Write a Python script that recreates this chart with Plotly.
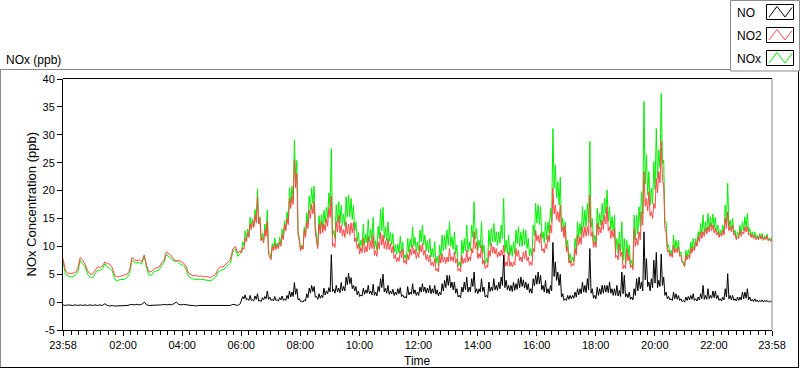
import plotly.graph_objects as go
import pandas as pd

# ---------------- data ----------------
START = "2020-01-01 23:58"
END = "2020-01-02 23:58"

# 5-minute samples, 23:58 .. 23:58 (289 points)
NO2 = [
    7.8, 5.6, 5.2, 5.1, 5.2, 5.3, 6.0, 8.0, 7.5, 6.8, 5.6, 5.0,
    5.0, 5.6, 6.3, 6.2, 6.5, 7.2, 6.9, 6.8, 6.2, 4.8, 4.5, 4.6,
    4.7, 4.8, 5.0, 5.6, 8.0, 7.6, 7.4, 7.6, 7.2, 8.4, 6.5, 5.4,
    5.5, 6.0, 6.2, 6.3, 7.0, 7.5, 9.0, 8.6, 8.3, 7.6, 7.4, 7.5,
    7.2, 7.0, 6.4, 5.2, 4.9, 4.7, 4.8, 4.6, 4.7, 4.5, 4.6, 4.5,
    4.4, 4.7, 5.0, 6.0, 6.3, 6.3, 6.8, 7.2, 7.6, 9.5, 10.0, 8.8,
    9.2, 9.8, 11.5, 12.5, 14.0, 14.5, 15.5, 18.8, 15.0, 11.5, 13.0, 14.5,
    8.0, 10.0, 10.5, 10.2, 10.8, 12.0, 14.0, 15.0, 18.5, 19.0, 25.5, 23.0,
    11.0, 10.0, 13.0, 14.5, 16.5, 17.5, 18.0, 10.8, 14.0, 14.5, 14.0, 15.0,
    17.0, 19.0, 10.5, 14.5, 15.5, 13.8, 13.0, 14.4, 14.0, 14.2, 14.3, 11.5,
    10.5, 9.8, 11.5, 10.0, 11.8, 11.0, 12.0, 9.2, 10.8, 12.5, 12.0, 11.0,
    11.4, 10.5, 10.0, 8.5, 8.0, 9.2, 9.5, 7.5, 8.6, 9.5, 10.2, 9.4,
    9.0, 10.2, 10.5, 9.3, 8.5, 8.4, 7.2, 7.8, 6.0, 8.4, 8.7, 8.1,
    8.1, 9.6, 8.1, 9.0, 7.8, 6.0, 8.4, 7.8, 9.3, 8.1, 9.6, 12.6,
    10.8, 8.7, 10.2, 7.5, 6.6, 9.3, 10.5, 9.9, 9.6, 9.0, 9.3, 10.2,
    7.2, 9.0, 7.2, 7.2, 9.6, 9.3, 8.1, 9.0, 9.3, 8.1, 7.2, 9.6,
    12.9, 12.0, 12.3, 9.6, 10.5, 12.0, 13.8, 20.4, 17.4, 16.2, 17.4, 13.5,
    13.8, 9.9, 7.5, 6.9, 9.6, 12.0, 11.7, 13.5, 13.5, 13.5, 19.2, 12.6,
    10.8, 14.1, 13.5, 14.7, 15.6, 17.1, 13.5, 12.9, 13.2, 8.4, 10.5, 9.0,
    6.6, 9.6, 8.4, 6.6, 13.2, 11.4, 12.6, 16.2, 23.4, 18.6, 19.8, 16.2,
    17.7, 22.2, 23.4, 28.8, 21.0, 12.6, 9.3, 8.7, 10.2, 9.6, 9.9, 8.4,
    6.9, 8.4, 8.4, 9.6, 9.9, 10.8, 11.7, 12.6, 12.6, 13.2, 13.5, 14.1,
    13.8, 13.2, 12.6, 12.3, 12.9, 15.0, 16.2, 13.5, 13.8, 12.3, 11.7, 12.9,
    12.6, 13.5, 13.5, 12.3, 12.1, 12.0, 11.6, 12.0, 11.9, 11.6, 11.9, 11.3,
    11.4,
]

NO = [
    -0.5, -0.6, -0.5, -0.6, -0.6, -0.5, -0.6, -0.5, -0.6, -0.5, -0.6, -0.5,
    -0.6, -0.5, -0.6, -0.5, -0.6, -0.3, -0.6, -0.7, -0.6, -0.7, -0.7, -0.6,
    -0.6, -0.7, -0.6, -0.5, -0.4, -0.5, -0.4, -0.5, -0.4, 0.0, -0.5, -0.6,
    -0.6, -0.5, -0.6, -0.5, -0.5, -0.4, -0.5, -0.4, -0.5, -0.3, 0.0, -0.4,
    -0.5, -0.4, -0.5, -0.6, -0.6, -0.6, -0.7, -0.6, -0.6, -0.5, -0.6, -0.6,
    -0.6, -0.6, -0.5, -0.6, -0.6, -0.5, -0.6, -0.5, -0.6, -0.4, -0.5, -0.6,
    -0.3, 1.0, 1.3, 0.6, 1.2, 0.4, 1.1, 1.5, 0.3, 0.8, 1.0, 2.0,
    0.9, 0.5, 1.0, 0.4, 0.8, 1.1, 0.6, 1.2, 2.0, 1.8, 3.5, 2.4,
    0.6, 0.2, 0.4, 1.5, 2.5, 3.0, 2.8, 1.0, 1.5, 1.2, 2.5, 2.0,
    2.6, 8.5, 2.3, 3.0, 2.5, 3.5, 2.8, 4.5, 5.2, 4.4, 3.0, 2.8,
    2.0, 1.3, 2.5, 2.2, 3.0, 2.0, 3.2, 1.8, 2.8, 4.2, 5.0, 2.5,
    3.0, 2.0, 2.3, 1.8, 2.4, 2.6, 1.3, 1.0, 2.8, 1.8, 3.3, 2.2,
    1.8, 2.7, 3.3, 2.7, 2.5, 3.0, 2.4, 3.0, 2.2, 1.8, 3.3, 3.9,
    4.8, 4.8, 3.6, 3.6, 2.4, 1.2, 2.7, 3.6, 4.5, 2.7, 4.2, 5.4,
    2.4, 2.4, 4.2, 2.7, 1.2, 3.6, 2.7, 4.2, 3.0, 3.6, 4.5, 8.4,
    3.9, 3.0, 3.0, 3.6, 3.3, 4.2, 4.5, 4.0, 3.6, 3.3, 2.4, 4.2,
    4.8, 5.4, 4.8, 3.0, 3.9, 2.4, 3.0, 10.7, 7.2, 5.4, 5.0, 1.5,
    0.6, 1.2, 1.2, 1.2, 1.8, 2.4, 2.4, 3.6, 3.0, 4.2, 9.6, 2.4,
    1.2, 2.7, 2.4, 3.0, 3.0, 3.0, 3.6, 2.4, 2.4, 3.0, 2.1, 5.4,
    4.8, 1.5, 1.8, 0.9, 2.4, 4.2, 4.5, 3.6, 12.6, 7.8, 3.6, 4.2,
    7.5, 8.9, 3.9, 8.6, 4.5, 1.8, 1.0, 0.6, 1.8, 1.5, 1.2, 0.6,
    0.3, 0.9, 1.0, 1.2, 1.5, 0.6, 0.9, 1.5, 3.0, 1.2, 2.4, 1.2,
    2.0, 2.0, 1.2, 0.6, 0.9, 2.4, 5.1, 1.2, 1.2, 0.6, 0.9, 0.9,
    1.8, 1.8, 2.4, 0.9, 0.5, 0.6, 0.4, 0.3, 0.4, 0.3, 0.3, 0.2,
    0.3,
]

NOx = [
    7.3, 5.0, 4.7, 4.5, 4.6, 4.8, 5.4, 7.5, 6.9, 6.3, 5.0, 4.5,
    4.4, 5.1, 5.7, 5.7, 5.9, 6.9, 6.3, 6.1, 5.6, 4.1, 3.8, 4.0,
    4.1, 4.1, 4.4, 5.1, 7.6, 7.1, 7.0, 7.1, 6.8, 8.4, 6.0, 4.8,
    4.9, 5.5, 5.6, 5.8, 6.5, 7.1, 8.5, 8.2, 7.8, 7.3, 7.4, 7.1,
    6.7, 6.6, 5.9, 4.6, 4.3, 4.1, 4.1, 4.0, 4.1, 4.0, 4.0, 3.9,
    3.8, 4.1, 4.5, 5.4, 5.7, 5.8, 6.2, 6.7, 7.0, 9.1, 9.5, 8.2,
    8.9, 10.8, 12.8, 13.1, 15.2, 14.9, 16.6, 20.3, 15.3, 12.3, 14.0, 16.5,
    8.9, 10.5, 11.5, 10.6, 11.6, 13.1, 14.6, 16.2, 20.5, 20.8, 29.0, 25.4,
    11.6, 10.2, 13.4, 16.0, 19.0, 20.5, 20.8, 11.8, 15.5, 15.7, 16.5, 17.0,
    19.6, 27.5, 12.8, 17.5, 18.0, 17.3, 15.8, 18.9, 19.2, 18.6, 17.3, 14.3,
    12.5, 11.1, 14.0, 12.2, 14.8, 13.0, 15.2, 11.0, 13.6, 16.7, 17.0, 13.5,
    14.4, 12.5, 12.3, 10.3, 10.4, 11.8, 10.8, 8.5, 11.4, 11.3, 13.5, 11.6,
    10.8, 12.9, 13.8, 12.0, 11.0, 11.4, 9.6, 10.8, 8.2, 10.2, 12.0, 12.0,
    12.9, 14.4, 11.7, 12.6, 10.2, 7.2, 11.1, 11.4, 13.8, 10.8, 13.8, 18.0,
    13.2, 11.1, 14.4, 10.2, 7.8, 12.9, 13.2, 14.1, 12.6, 12.6, 13.8, 18.6,
    11.1, 12.0, 10.2, 10.8, 12.9, 13.5, 12.6, 13.0, 12.9, 11.4, 9.6, 13.8,
    17.7, 17.4, 17.1, 12.6, 14.4, 14.4, 16.8, 31.1, 24.6, 21.6, 22.4, 15.0,
    14.4, 11.1, 8.7, 8.1, 11.4, 14.4, 14.1, 17.1, 16.5, 17.7, 28.8, 15.0,
    12.0, 16.8, 15.9, 17.7, 18.6, 20.1, 17.1, 15.3, 15.6, 11.4, 12.6, 14.4,
    11.4, 11.1, 10.2, 7.5, 15.6, 15.6, 17.1, 19.8, 36.0, 26.4, 23.4, 20.4,
    25.2, 31.1, 27.3, 37.4, 25.5, 14.4, 10.3, 9.3, 12.0, 11.1, 11.1, 9.0,
    7.2, 9.3, 9.4, 10.8, 11.4, 11.4, 12.6, 14.1, 15.6, 14.4, 15.9, 15.3,
    15.8, 15.2, 13.8, 12.9, 13.8, 17.4, 21.3, 14.7, 15.0, 12.9, 12.6, 13.8,
    14.4, 15.3, 15.9, 13.2, 12.6, 12.6, 12.0, 12.3, 12.3, 11.9, 12.2, 11.5,
    11.7,
]

# Low points (noise troughs) read between the 5-minute samples,
# from sample 72 (05:58) to sample 287 (23:53), each 2.5 minutes after its sample
LOW_FIRST = 72
NO2_LOW = [
    8.8, 9.5, 10.8, 11.6, 13.0, 13.4, 14.2, 14.0, 11.0, 10.6, 11.8, 8.5,
    7.6, 9.2, 9.4, 9.6, 10.0, 11.2, 12.8, 13.9, 16.8, 17.5, 20.5, 12.0,
    9.2, 9.5, 11.6, 13.2, 15.0, 15.8, 12.5, 9.6, 12.2, 12.4, 12.8, 13.6,
    15.2, 10.0, 9.8, 12.6, 12.4, 11.8, 11.6, 12.2, 12.0, 12.4, 10.8, 9.6,
    8.6, 8.9, 8.8, 9.0, 9.4, 9.6, 8.4, 8.2, 9.5, 10.2, 9.6, 9.4,
    9.4, 8.8, 7.8, 7.2, 7.3, 8.0, 7.0, 6.8, 7.6, 8.4, 8.6, 7.8,
    8.0, 9.0, 8.4, 7.6, 7.2, 6.6, 6.4, 5.6, 5.4, 7.0, 7.2, 6.9,
    7.2, 7.4, 7.3, 7.0, 5.6, 5.4, 6.9, 7.0, 7.2, 7.4, 8.8, 9.6,
    7.8, 7.9, 6.8, 6.0, 6.2, 8.2, 8.8, 8.6, 8.0, 8.2, 8.4, 6.4,
    6.5, 6.4, 6.3, 6.6, 8.2, 7.4, 7.2, 7.8, 7.4, 6.6, 6.6, 9.0,
    11.0, 10.6, 9.2, 8.8, 9.6, 10.8, 12.4, 15.8, 14.8, 14.4, 12.6, 11.6,
    9.0, 7.0, 6.4, 6.6, 8.4, 10.2, 10.4, 11.6, 11.8, 12.0, 11.8, 9.8,
    9.8, 12.0, 12.4, 13.0, 14.0, 12.8, 11.4, 11.6, 8.0, 7.6, 8.2, 6.0,
    6.0, 7.4, 6.2, 5.8, 10.0, 10.2, 11.2, 13.8, 17.2, 16.4, 15.4, 15.0,
    16.8, 19.6, 21.4, 21.8, 13.0, 9.0, 8.2, 8.0, 8.8, 8.9, 8.2, 7.2,
    6.4, 7.6, 7.8, 8.8, 9.2, 10.0, 10.8, 11.4, 11.8, 12.2, 12.6, 12.8,
    12.4, 12.0, 11.6, 11.8, 12.0, 13.2, 12.8, 12.6, 12.0, 11.2, 11.4, 11.8,
    12.2, 12.6, 12.0, 11.6, 11.4, 11.2, 11.2, 11.3, 11.1, 11.2, 11.0, 10.9,
]
NO_LOW = [
    0.2, 0.6, 0.4, 0.3, 0.3, 0.2, 0.5, 0.2, 0.1, 0.4, 0.6, 0.5,
    0.3, 0.2, 0.3, 0.2, 0.4, 0.3, 0.3, 0.6, 0.9, 1.0, 1.4, 0.4,
    0.1, 0.0, 0.2, 0.8, 1.6, 1.9, 0.9, 0.5, 0.7, 0.8, 1.3, 1.5,
    1.8, 1.9, 1.6, 1.8, 1.7, 2.0, 2.0, 3.1, 3.3, 2.4, 2.0, 1.3,
    1.0, 1.1, 1.4, 1.6, 1.5, 1.3, 1.2, 1.1, 1.9, 2.6, 1.8, 1.6,
    1.4, 1.5, 1.2, 1.3, 1.5, 1.0, 0.8, 0.7, 1.3, 1.4, 1.5, 1.2,
    1.2, 1.8, 1.9, 1.6, 1.7, 1.5, 1.6, 1.4, 1.1, 1.3, 2.0, 2.6,
    3.0, 2.6, 2.2, 1.6, 0.9, 0.8, 1.8, 2.2, 1.8, 1.9, 2.8, 1.7,
    1.5, 1.8, 1.9, 0.9, 0.8, 1.9, 2.0, 2.2, 2.1, 2.4, 3.0, 2.6,
    2.2, 2.0, 1.9, 2.1, 2.3, 2.6, 2.8, 2.5, 2.2, 1.7, 1.6, 2.9,
    3.2, 3.3, 2.2, 1.8, 1.6, 1.5, 2.0, 4.6, 3.9, 3.0, 0.9, 0.3,
    0.3, 0.5, 0.6, 0.7, 0.9, 1.3, 1.5, 1.8, 1.7, 2.2, 1.6, 0.7,
    0.6, 1.2, 1.4, 1.6, 1.8, 1.7, 1.6, 1.2, 1.2, 1.1, 1.0, 1.5,
    0.9, 0.8, 0.5, 0.4, 1.2, 2.0, 2.4, 2.0, 4.0, 2.8, 2.0, 2.6,
    3.4, 2.6, 2.8, 3.0, 1.2, 0.6, 0.4, 0.3, 0.6, 0.5, 0.3, 0.1,
    0.0, 0.3, 0.4, 0.5, 0.3, 0.2, 0.4, 0.6, 0.5, 0.5, 0.6, 0.7,
    0.8, 0.6, 0.3, 0.2, 0.4, 0.9, 0.6, 0.4, 0.3, 0.2, 0.3, 0.4,
    0.6, 0.7, 0.4, 0.2, 0.1, 0.1, 0.0, 0.1, 0.0, 0.1, 0.0, 0.0,
]
NOX_LOW = [
    9.0, 10.1, 11.2, 11.9, 13.3, 13.6, 14.7, 14.2, 11.1, 11.0, 12.4, 9.0,
    7.9, 9.4, 9.7, 9.8, 10.4, 11.5, 13.1, 14.5, 17.7, 18.5, 21.9, 12.4,
    9.3, 9.5, 11.8, 14.0, 16.6, 17.7, 13.4, 10.1, 12.9, 13.2, 14.1, 15.1,
    17.0, 11.9, 11.4, 14.4, 14.1, 13.8, 13.6, 15.3, 15.3, 14.8, 12.8, 10.9,
    9.6, 10.0, 10.2, 10.6, 10.9, 10.9, 9.6, 9.3, 11.4, 12.8, 11.4, 11.0,
    10.8, 10.3, 9.0, 8.5, 8.8, 9.0, 7.8, 7.5, 8.9, 9.8, 10.1, 9.0,
    9.2, 10.8, 10.3, 9.2, 8.9, 8.1, 8.0, 7.0, 6.5, 8.3, 9.2, 9.5,
    10.2, 10.0, 9.5, 8.6, 6.5, 6.2, 8.7, 9.2, 9.0, 9.3, 11.6, 11.3,
    9.3, 9.7, 8.7, 6.9, 7.0, 10.1, 10.8, 10.8, 10.1, 10.6, 11.4, 9.0,
    8.7, 8.4, 8.2, 8.7, 10.5, 10.0, 10.0, 10.3, 9.6, 8.3, 8.2, 11.9,
    14.2, 13.9, 11.4, 10.6, 11.2, 12.3, 14.4, 20.4, 18.7, 17.4, 13.5, 11.9,
    9.3, 7.5, 7.0, 7.3, 9.3, 11.5, 11.9, 13.4, 13.5, 14.2, 13.4, 10.5,
    10.4, 13.2, 13.8, 14.6, 15.8, 14.5, 13.0, 12.8, 9.2, 8.7, 9.2, 7.5,
    6.9, 8.2, 6.7, 6.2, 11.2, 12.2, 13.6, 15.8, 21.2, 19.2, 17.4, 17.6,
    20.2, 22.2, 24.2, 24.8, 14.2, 9.6, 8.6, 8.3, 9.4, 9.4, 8.5, 7.3,
    6.4, 7.9, 8.2, 9.3, 9.5, 10.2, 11.2, 12.0, 12.3, 12.7, 13.2, 13.5,
    13.2, 12.6, 11.9, 12.0, 12.4, 14.1, 13.4, 13.0, 12.3, 11.4, 11.7, 12.2,
    12.8, 13.3, 12.4, 11.8, 11.5, 11.3, 11.2, 11.4, 11.1, 11.3, 11.0, 10.9,
]

SERIES_NAMES = ["NO", "NO2", "NOx"]
X_TICK_LABELS = ["23:58", "02:00", "04:00", "06:00", "08:00", "10:00", "12:00",
                 "14:00", "16:00", "18:00", "20:00", "22:00", "23:58"]
Y_TICKS = [-5, 0, 5, 10, 15, 20, 25, 30, 35, 40]

if not (len(NO2) == len(NO) == len(NOx)):
    raise ValueError("series lengths differ: %d %d %d" % (len(NO2), len(NO), len(NOx)))
if not (len(NO2_LOW) == len(NO_LOW) == len(NOX_LOW)):
    raise ValueError("low lengths differ: %d %d %d" % (len(NO2_LOW), len(NO_LOW), len(NOX_LOW)))

times = pd.date_range(START, periods=len(NO2), freq="5min")
low_times = times[LOW_FIRST:LOW_FIRST + len(NO2_LOW)] + pd.Timedelta("150s")


def merged(main_vals, low_vals):
    df = pd.concat([
        pd.DataFrame({"t": times, "v": main_vals}),
        pd.DataFrame({"t": low_times, "v": low_vals}),
    ]).sort_values("t")
    return df["t"], df["v"]


# ---------------- geometry ----------------
W, H = 800, 369
L, R, T, B = 63, 28, 79, 39
PW, PH = W - L - R, H - T - B


def fx(px):
    return (px - L) / PW


def fy(py):
    return (H - B - py) / PH


major_ticks = [pd.Timestamp(START)] + \
    [pd.Timestamp("2020-01-02 %02d:00" % h) for h in range(2, 24, 2)] + \
    [pd.Timestamp(END)]
minor_ticks = [t for t in pd.date_range("2020-01-02 00:15", "2020-01-02 23:45", freq="15min")
               if not (t.minute == 0 and t.hour % 2 == 0)]

FONT = "Liberation Sans"

fig = go.Figure()
colors = {"NO": "#000000", "NO2": "#ff4646", "NOx": "#00f000"}
data = {"NO": (NO, NO_LOW), "NO2": (NO2, NO2_LOW), "NOx": (NOx, NOX_LOW)}
for name in ["NOx", "NO2", "NO"]:
    xs, ys = merged(*data[name])
    fig.add_trace(go.Scatter(
        x=xs, y=ys, mode="lines", name=name,
        line=dict(color=colors[name], width=1),
        showlegend=False, hoverinfo="skip"))

fig.update_layout(
    width=W, height=H, autosize=False,
    margin=dict(l=L, r=R, t=T, b=B, pad=0),
    paper_bgcolor="white", plot_bgcolor="white",
    font=dict(family=FONT, size=11, color="black"),
    showlegend=False,
)

fig.update_xaxes(
    type="date", range=[times[0], times[-1]],
    tickmode="array", tickvals=major_ticks, ticktext=X_TICK_LABELS,
    ticks="outside", ticklen=5, tickwidth=1, tickcolor="black",
    tickfont=dict(family=FONT, size=11, color="black"),
    showline=True, linecolor="black", linewidth=1,
    showgrid=False, zeroline=False,
    minor=dict(tickmode="array", tickvals=minor_ticks, ticks="outside",
               ticklen=4, tickwidth=1, tickcolor="black", showgrid=False),
)
fig.update_yaxes(
    range=[-5, 40], tickmode="array", tickvals=Y_TICKS,
    ticktext=[str(v) for v in Y_TICKS],
    ticks="outside", ticklen=5, tickwidth=1, tickcolor="black",
    tickfont=dict(family=FONT, size=11, color="black"),
    showline=True, linecolor="black", linewidth=1,
    showgrid=False, zeroline=False,
)

shapes = []


def line(x0, y0, x1, y1, color, width=1):
    shapes.append(dict(type="line", xref="paper", yref="paper",
                       x0=fx(x0), y0=fy(y0), x1=fx(x1), y1=fy(y1),
                       line=dict(color=color, width=width)))


# plot frame: top black, right gray
line(L, T - 0.5, W - R, T - 0.5, "black")
line(W - R, T, W - R, H - B, "#8a8a8a")
# outer frame
line(0, 69.5, 730, 69.5, "#8a8a8a")
line(0.5, 69.5, 0.5, 368, "#8a8a8a")
line(0, 367.5, 799, 367.5, "black")
line(798.5, 71, 798.5, 368, "black")

# legend box
shapes.append(dict(type="rect", xref="paper", yref="paper",
                   x0=fx(730.5), y0=fy(0.5), x1=fx(799.5), y1=fy(71),
                   line=dict(color="#8a8a8a", width=1), fillcolor="white"))
annotations = []
for k, name in enumerate(SERIES_NAMES):
    oy = 23 * k
    shapes.append(dict(type="rect", xref="paper", yref="paper",
                       x0=fx(766.5), y0=fy(4.5 + oy), x1=fx(793.5), y1=fy(19.5 + oy),
                       line=dict(color="black", width=1), fillcolor="white"))
    pts = [(769, 17 + oy), (777, 6.5 + oy), (785, 17 + oy), (792, 7.5 + oy)]
    path = "M " + " L ".join("%f,%f" % (fx(a), fy(b)) for a, b in pts)
    shapes.append(dict(type="path", xref="paper", yref="paper", path=path,
                       line=dict(color=colors[name], width=1)))
    annotations.append(dict(text=name, xref="paper", yref="paper",
                            x=fx(735), y=fy(13 + oy), xanchor="left", yanchor="middle",
                            showarrow=False, font=dict(family=FONT, size=12, color="black")))

annotations += [
    dict(text="NOx (ppb)", xref="paper", yref="paper", x=fx(4), y=fy(60),
         xanchor="left", yanchor="middle", showarrow=False,
         font=dict(family=FONT, size=12, color="black")),
    dict(text="NOx Concentration (ppb)", xref="paper", yref="paper", x=fx(31), y=0.5,
         xanchor="center", yanchor="middle", textangle=-90, showarrow=False,
         font=dict(family=FONT, size=13, color="black")),
    dict(text="Time", xref="paper", yref="paper", x=fx(417), y=fy(361),
         xanchor="center", yanchor="middle", showarrow=False,
         font=dict(family=FONT, size=12, color="black")),
]

fig.update_layout(shapes=shapes, annotations=annotations)

fig.write_html("out.html", config={"displayModeBar": False},
               post_script="document.body.style.margin='0px';")
